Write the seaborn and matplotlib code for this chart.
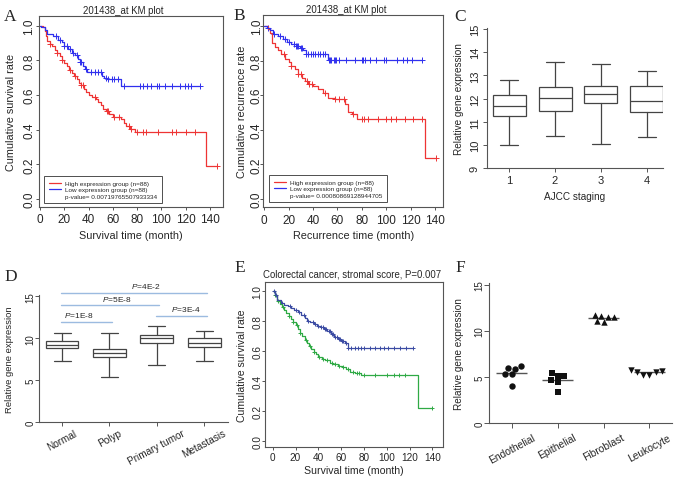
import numpy as np
import matplotlib
matplotlib.use('Agg')
import matplotlib.pyplot as plt
import seaborn as sns
from matplotlib.lines import Line2D

# ---- A: KM overall survival (201438_at)
a_hi_t = [0, 2, 4, 5, 6, 8, 10, 12, 14, 16, 18, 20, 22, 24, 26, 28, 30, 32, 34, 36,
          38, 40, 43, 46, 48, 50, 52, 54, 57, 60, 67, 69, 71, 74, 78, 137, 146]
a_hi_s = [1.0, 0.99, 0.97, 0.94, 0.91, 0.895, 0.88, 0.86, 0.845, 0.825, 0.80, 0.785, 0.77,
          0.745, 0.725, 0.71, 0.69, 0.67, 0.655, 0.635, 0.615, 0.60, 0.59, 0.575, 0.56, 0.54,
          0.52, 0.505, 0.49, 0.475, 0.46, 0.44, 0.42, 0.405, 0.385, 0.19, 0.19]
a_hi_cens = [8, 14, 18, 25, 29, 34, 35, 45, 55, 56, 61, 65, 73, 75, 80, 85, 87, 97, 109,
             112, 120, 128, 146]
a_lo_t = [0, 1, 4, 6, 11, 15, 18, 20, 23, 26, 29, 31, 33, 35, 37, 39, 51, 53, 55, 67, 132]
a_lo_s = [1.0, 0.99, 0.975, 0.95, 0.94, 0.92, 0.905, 0.885, 0.865, 0.845, 0.83, 0.81, 0.79,
          0.77, 0.75, 0.735, 0.71, 0.70, 0.69, 0.652, 0.652]
a_lo_cens = [13, 16, 20, 22, 25, 27, 30, 33, 34, 38, 42, 45, 48, 50, 54, 56, 59, 61, 64, 69,
             82, 85, 88, 91, 96, 98, 103, 109, 115, 119, 122, 124, 132]
a_pval = "p-value= 0.00719765507933334"

# ---- B: KM recurrence (201438_at)
b_hi_t = [0, 3, 5, 6, 9, 11, 14, 17, 20, 22, 25, 28, 31, 33, 36, 40, 44, 48, 52, 58, 66,
          69, 72, 76, 132, 141]
b_hi_s = [1.0, 0.98, 0.96, 0.90, 0.88, 0.86, 0.835, 0.81, 0.79, 0.77, 0.75, 0.725, 0.70,
          0.68, 0.665, 0.655, 0.635, 0.61, 0.585, 0.575, 0.55, 0.50, 0.49, 0.465, 0.235, 0.235]
b_hi_cens = [16, 22, 28, 30, 35, 37, 39, 50, 58, 61, 65, 73, 80, 82, 85, 93, 100, 104, 108,
             115, 122, 129, 141]
b_lo_t = [0, 2, 5, 7, 11, 15, 19, 22, 26, 29, 32, 34, 52, 129]
b_lo_s = [1.0, 0.99, 0.975, 0.955, 0.94, 0.925, 0.91, 0.895, 0.885, 0.875, 0.86, 0.835,
          0.805, 0.805]
b_lo_cens = [3, 8, 13, 17, 20, 24, 26, 27, 28, 30, 31, 34, 36, 38, 40, 42, 44, 46, 48, 50,
             53, 54, 55, 57, 58, 59, 61, 67, 74, 80, 81, 83, 87, 92, 98, 100, 109, 114, 117,
             121, 129]
b_pval = "p-value= 0.00080869128944705"

# ---- C: AJCC staging boxplots (whisker low, q1, median, q3, whisker high)
c_stage = ['1', '2', '3', '4']
c_lo = [10.02, 10.39, 10.06, 10.33]
c_q1 = [11.27, 11.47, 11.81, 11.42]
c_med = [11.70, 12.04, 12.19, 11.88]
c_q3 = [12.17, 12.52, 12.56, 12.56]
c_hi = [12.80, 13.59, 13.48, 13.19]

# ---- D: tissue type boxplots
d_group = ['Normal', 'Polyp', 'Primary tumor', 'Metastasis']
d_lo = [7.34, 5.36, 6.87, 7.26]
d_q1 = [8.81, 7.74, 9.40, 9.00]
d_med = [9.21, 8.21, 10.04, 9.40]
d_q3 = [9.64, 8.73, 10.44, 10.04]
d_hi = [10.63, 10.63, 11.43, 10.91]
d_pairs = [(0, 1), (0, 2), (0, 3), (2, 3)]
d_pair_y = [11.9, 13.9, 15.35, 12.6]
d_pair_txt = ['1E-8', '5E-8', '4E-2', '3E-4']

# ---- E: stromal score KM
e_hi_t = [0, 2, 4, 6, 8, 10, 12, 14, 16, 18, 20, 22, 24, 26, 28, 30, 32, 34, 36, 38, 40,
          43, 46, 50, 53, 57, 61, 64, 68, 72, 77, 127, 140]
e_hi_s = [1.0, 0.97, 0.93, 0.91, 0.89, 0.87, 0.85, 0.83, 0.81, 0.79, 0.77, 0.745, 0.72,
          0.695, 0.67, 0.65, 0.63, 0.61, 0.59, 0.575, 0.56, 0.545, 0.535, 0.52, 0.51, 0.50,
          0.49, 0.475, 0.46, 0.45, 0.438, 0.22, 0.22]
e_hi_cens = [2, 5, 9, 14, 18, 21, 24, 29, 33, 36, 41, 44, 48, 52, 55, 58, 62, 66, 70, 74,
             76, 80, 90, 100, 106, 111, 116, 140]
e_lo_t = [0, 2, 4, 7, 10, 13, 16, 19, 22, 25, 28, 30, 33, 36, 39, 42, 45, 48, 51, 54, 57,
          60, 63, 66, 123]
e_lo_s = [1.0, 0.97, 0.94, 0.92, 0.905, 0.895, 0.885, 0.87, 0.855, 0.84, 0.82, 0.80, 0.79,
          0.775, 0.765, 0.755, 0.745, 0.73, 0.71, 0.69, 0.675, 0.665, 0.65, 0.615, 0.615]
e_lo_cens = [1, 3, 8, 15, 20, 23, 27, 31, 35, 37, 40, 42, 44, 46, 47, 49, 50, 52, 53, 55,
             56, 58, 59, 61, 62, 64, 66, 69, 72, 75, 77, 80, 85, 90, 94, 98, 101, 106, 112,
             117, 123]

# ---- F: cell types
f_cells = ['Endothelial', 'Epithelial', 'Fibroblast', 'Leukocyte']
f_endo = [5.96, 6.22, 5.89, 5.31, 5.28, 4.05]
f_epi = [4.66, 5.13, 5.42, 5.13, 4.41, 3.40]
f_fib = [11.53, 11.64, 10.91, 11.46, 11.10, 11.75]
f_leu = [5.57, 5.64, 5.20, 5.49, 5.20, 5.78]

sns.set_theme(style='ticks')
plt.rcParams['font.family'] = ['Liberation Sans', 'DejaVu Sans']
plt.rcParams['mathtext.fontset'] = 'custom'
plt.rcParams['mathtext.rm'] = 'Liberation Sans'
plt.rcParams['mathtext.it'] = 'Liberation Sans:italic'
plt.rcParams['axes.linewidth'] = 0.8

RED, BLUE = '#ee3434', '#3030ee'
E_BLUE, E_GREEN = '#3b4ba3', '#2faa45'
FRAME = '#555555'


def step_at(t, s, c):
    idx = np.searchsorted(t, c, side='right') - 1
    return np.asarray(s)[idx]


def km(ax, t, s, cens, color, ms=16):
    sns.lineplot(x=t, y=s, drawstyle='steps-post', estimator=None, color=color,
                 lw=0.9, ax=ax)
    sns.scatterplot(x=cens, y=step_at(t, s, cens), marker='+', s=ms, color=color,
                    linewidth=0.7, ax=ax)


def km_axes(ax, xlim, ylim, fs=8.5, ypad=0.0, xpad=2.0):
    ax.set_xlim(xlim)
    ax.set_ylim(ylim)
    ax.set_xticks(range(0, 141, 20))
    ax.set_yticks([0, 0.2, 0.4, 0.6, 0.8, 1.0])
    ax.set_yticklabels(['0.0', '0.2', '0.4', '0.6', '0.8', '1.0'])
    for sp in ax.spines.values():
        sp.set_color(FRAME)
        sp.set_linewidth(0.8)
    ax.tick_params(length=2.5, width=0.7, color=FRAME, labelsize=fs)
    ax.tick_params(axis='x', pad=xpad)
    ax.tick_params(axis='y', labelrotation=90, pad=ypad)
    for lab in ax.get_yticklabels():
        lab.set_va('center')


def km_legend(ax, pval, anchor):
    handles = [Line2D([], [], color=RED, lw=0.9), Line2D([], [], color=BLUE, lw=0.9),
               Line2D([], [], color='none')]
    labels = ['High expression group (n=88)', 'Low expression group (n=88)', pval]
    leg = ax.legend(handles, labels, loc='lower left', bbox_to_anchor=anchor,
                    fontsize=4.6, frameon=True, fancybox=False, handlelength=1.9,
                    handletextpad=0.7, labelspacing=0.15, borderpad=0.7,
                    borderaxespad=0)
    leg.get_frame().set_edgecolor('#222222')
    leg.get_frame().set_linewidth(0.7)


def box_axes(ax, stats_cols, names, width, capw):
    lo, q1, med, q3, hi = stats_cols
    stats = [dict(whislo=a, q1=b, med=c, q3=d, whishi=e, fliers=[])
             for a, b, c, d, e in zip(lo, q1, med, q3, hi)]
    lp = dict(color='#444444', lw=0.9)
    ax.bxp(stats, positions=range(len(names)), widths=width, capwidths=capw,
           showfliers=False, patch_artist=True,
           boxprops=dict(facecolor='white', edgecolor='#444444', lw=0.9),
           medianprops=lp, whiskerprops=lp, capprops=lp)
    sns.despine(ax=ax)
    for sp in ax.spines.values():
        sp.set_color(FRAME)
        sp.set_linewidth(0.8)
    ax.tick_params(length=3, width=0.7, color=FRAME, pad=2)
    ax.tick_params(axis='y', labelrotation=90)


fig = plt.figure(figsize=(6.77, 4.81), dpi=100)

# ---- A
axA = fig.add_axes([0.0569, 0.5676, 0.2725, 0.3971])
km(axA, a_hi_t, a_hi_s, a_hi_cens, RED)
km(axA, a_lo_t, a_lo_s, a_lo_cens, BLUE)
km_axes(axA, (-1.3, 150.7), (-0.046, 1.056))
axA.set_title('201438_at KM plot', fontsize=6.9, x=0.46, pad=2.5)
axA.set_xlabel('Survival time (month)', fontsize=7.8)
axA.set_ylabel('Cumulative survival rate', fontsize=7.8)
axA.xaxis.set_label_coords(0.5, -0.12)
axA.yaxis.set_label_coords(-0.12, 0.5)
km_legend(axA, a_pval, (0.03, 0.02))

# ---- B
axB = fig.add_axes([0.3889, 0.5669, 0.2659, 0.3998])
km(axB, b_hi_t, b_hi_s, b_hi_cens, RED)
km(axB, b_lo_t, b_lo_s, b_lo_cens, BLUE)
km_axes(axB, (-0.8, 146.8), (-0.048, 1.063), ypad=-2.0)
axB.set_title('201438_at KM plot', fontsize=6.9, x=0.46, pad=2.5)
axB.set_xlabel('Recurrence time (month)', fontsize=7.8)
axB.set_ylabel('Cumulative recurrence rate', fontsize=7.8)
axB.xaxis.set_label_coords(0.5, -0.12)
axB.yaxis.set_label_coords(-0.092, 0.5)
km_legend(axB, b_pval, (0.033, 0.026))

# ---- C
axC = fig.add_axes([0.7189, 0.6480, 0.2609, 0.2911])
box_axes(axC, (c_lo, c_q1, c_med, c_q3, c_hi), c_stage, 0.72, 0.38)
axC.set_xlim(-0.49, 3.36)
axC.set_ylim(9, 15.03)
axC.set_yticks(range(9, 16))
axC.set_xticks(range(len(c_stage)))
axC.set_xticklabels(c_stage)
axC.tick_params(labelsize=8)
for lab in axC.get_yticklabels():
    lab.set_va('center')
axC.set_xlabel('AJCC staging', fontsize=7.2)
axC.set_ylabel('Relative gene expression', fontsize=7.2)
axC.xaxis.set_label_coords(0.5, -0.16)
axC.yaxis.set_label_coords(-0.13, 0.5)

# ---- D
axD = fig.add_axes([0.0581, 0.1200, 0.2792, 0.2655])
box_axes(axD, (d_lo, d_q1, d_med, d_q3, d_hi), d_group, 0.69, 0.36)
axD.set_xlim(-0.48, 3.51)
axD.set_ylim(0, 15.2)
axD.set_yticks([0, 5, 10, 15])
axD.set_xticks(range(len(d_group)))
axD.set_xticklabels(d_group, rotation=28, ha='center', fontsize=7.2)
axD.tick_params(axis='y', labelsize=7, pad=0)
axD.tick_params(axis='x', pad=1)
for lab in axD.get_yticklabels():
    lab.set_va('center')
axD.set_ylabel('Relative gene expression', fontsize=6.8)
axD.yaxis.set_label_coords(-0.135, 0.5)
lab_dx = [-0.14, 0.16, 0.27, 0.12]
for (i, j), yv, txt, dx in zip(d_pairs, d_pair_y, d_pair_txt, lab_dx):
    axD.plot([i - 0.02, j + 0.05], [yv, yv], color='#9cbbe0', lw=1, clip_on=False)
    axD.text((i + j) / 2 + dx, yv + 0.35, r'$\it{P}$=' + txt, ha='center', va='bottom',
             fontsize=6, clip_on=False)

# ---- E
axE = fig.add_axes([0.3914, 0.0680, 0.2634, 0.3443])
km(axE, e_hi_t, e_hi_s, e_hi_cens, E_GREEN, ms=9)
km(axE, e_lo_t, e_lo_s, e_lo_cens, E_BLUE, ms=9)
km_axes(axE, (-6.8, 149.6), (-0.044, 1.06), fs=7.2, ypad=-0.5, xpad=1.0)
axE.set_title('Colorectal cancer, stromal score, P=0.007', fontsize=6.9, x=0.486, pad=4)
axE.set_xlabel('Survival time (month)', fontsize=7.6)
axE.set_ylabel('Cumulative survival rate', fontsize=7.6)
axE.xaxis.set_label_coords(0.5, -0.105)
axE.yaxis.set_label_coords(-0.1, 0.5)

# ---- F
axF = fig.add_axes([0.7227, 0.1185, 0.2699, 0.2913])
for name, vals, mk in zip(f_cells, [f_endo, f_epi, f_fib, f_leu], ['o', 's', '^', 'v']):
    sns.swarmplot(x=[name] * len(vals), y=vals, order=f_cells, marker=mk, color='#111111',
                  size=4.6, ax=axF)
    k = f_cells.index(name)
    axF.hlines(np.mean(vals), k - 0.34, k + 0.34, color='#555555', lw=1, zorder=1)
sns.despine(ax=axF)
for sp in axF.spines.values():
    sp.set_color(FRAME)
    sp.set_linewidth(0.8)
axF.set_xlim(-0.49, 3.49)
axF.set_ylim(0, 15.2)
axF.set_yticks([0, 5, 10, 15])
axF.set_xticks(range(len(f_cells)))
axF.set_xticklabels(f_cells, rotation=28, ha='center', fontsize=7.4)
axF.tick_params(length=3.5, width=0.7, color=FRAME, pad=3)
axF.tick_params(axis='y', labelrotation=90, labelsize=7, pad=0)
for lab in axF.get_yticklabels():
    lab.set_va('center')
axF.set_ylabel('Relative gene expression', fontsize=7.2)
axF.yaxis.set_label_coords(-0.14, 0.5)

# ---- panel letters
for letter, (px, py) in zip('ABCDEF', [(9.7, 20.7), (239, 20), (460, 20.7),
                                       (10.3, 280.7), (239.3, 271.7), (460.5, 271.7)]):
    fig.text(px / 677, 1 - py / 481, letter, family='Liberation Serif', fontsize=12.5,
             ha='center', va='baseline')

fig.savefig('out.png', dpi=100)
